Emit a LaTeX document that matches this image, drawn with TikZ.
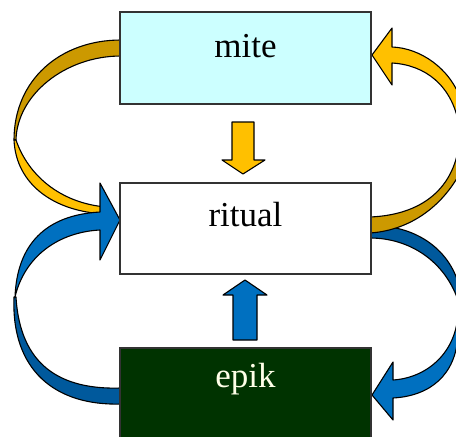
\documentclass[tikz,border=0pt]{standalone}
\usepackage{fontspec}
\setmainfont{Liberation Serif}
\definecolor{goldL}{HTML}{FFC000}
\definecolor{goldD}{HTML}{CC9900}
\definecolor{blueL}{HTML}{0070C0}
\definecolor{blueD}{HTML}{00599C}
\definecolor{miteFill}{HTML}{CCFFFF}
\definecolor{epikFill}{HTML}{003300}
\definecolor{epikText}{HTML}{FFFFE8}
\begin{document}
\begin{tikzpicture}[x=1pt,y=-1pt,
  box/.style={draw=black!80, line width=1.2pt, minimum width=251pt, inner sep=0pt},
  lbl/.style={anchor=base, inner sep=0pt, font=\fontsize{35}{40}\selectfont},
  arr/.style={draw=black, line width=1.1pt, line join=round}]
\useasboundingbox (0,0) rectangle (456,437);
\clip (0,0) rectangle (456,437);
% left yellow (mite -> ritual)
\filldraw[arr, fill=goldD] (121,40) .. controls (60,40) and (14,80) .. (14,140) -- (16,140) .. controls (17,95) and (65,56) .. (121,56) -- cycle;
\filldraw[arr, fill=goldL] (14,140) .. controls (16,185) and (55,212) .. (106,214) -- (106,207) .. controls (60,203) and (28,175) .. (16,140) -- cycle;
% left blue (epik -> ritual)
\filldraw[arr, fill=blueD] (14,297) .. controls (11,370) and (55,406) .. (121,404) -- (121,388) .. controls (60,390) and (20,365) .. (16,297) -- cycle;
\filldraw[arr, fill=blueL] (15,297) .. controls (17,245) and (45,215) .. (100,212) -- (100,183) -- (120,220) -- (100,260) -- (100,230) .. controls (60,232) and (25,255) .. (15,297) -- cycle;
% right blue (ritual -> epik)
\filldraw[arr, fill=blueD] (370,226) .. controls (415,224) and (452,250) .. (460,290) -- (461,310) .. controls (449,262) and (410,238) .. (370,238) -- cycle;
\filldraw[arr, fill=blueL] (458,315) .. controls (455,355) and (425,378) .. (393,380) -- (393,362) -- (372,395) -- (393,420) -- (393,398) .. controls (430,396) and (456,375) .. (458,335) -- cycle;
% right yellow (ritual -> mite)
\filldraw[arr, fill=goldD] (370,217) .. controls (420,215) and (457,190) .. (460,135) -- (466,160) .. controls (450,200) and (415,230) .. (370,233) -- cycle;
\filldraw[arr, fill=goldL] (392,47) .. controls (420,48) and (450,68) .. (461,100) -- (459,125) .. controls (452,85) and (425,65) .. (392,63) -- (392,85) -- (372,55) -- (392,28) -- cycle;
% centre arrows
\filldraw[arr, fill=goldL] (232,122) -- (254,122) -- (254,160) -- (265,160) -- (243,174) -- (222,160) -- (232,160) -- cycle;
\filldraw[arr, fill=blueL] (233,340) -- (257,340) -- (257,295) -- (267,295) -- (245,280) -- (223,295) -- (233,295) -- cycle;
% boxes
\node[box, fill=miteFill, minimum height=92pt] (mite) at (245.5,58) {};
\node[box, fill=white, minimum height=91pt] (ritual) at (245.5,228.5) {};
\node[box, fill=epikFill, minimum height=100pt] (epik) at (245.5,398) {};
\node[lbl] (mitetxt) at (245.5,57) {mite};
\node[lbl] (ritualtxt) at (245.5,226) {ritual};
\node[lbl, text=epikText] (epiktxt) at (245.5,387) {epik};
\end{tikzpicture}
\end{document}
